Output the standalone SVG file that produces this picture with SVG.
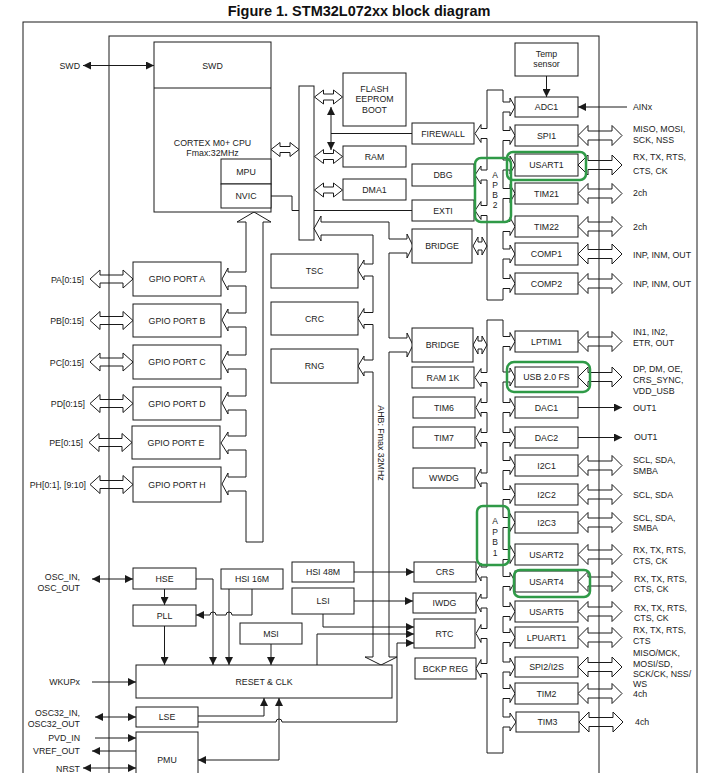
<svg xmlns="http://www.w3.org/2000/svg" width="719" height="773" viewBox="0 0 719 773">
<style>
.b{fill:#fff;stroke:#1a1a1a;stroke-width:1}
.l{fill:none;stroke:#1a1a1a;stroke-width:1}
.t{font-family:"Liberation Sans",Arial,sans-serif;font-size:8.8px;fill:#222;text-anchor:middle}
.s{font-family:"Liberation Sans",Arial,sans-serif;font-size:8.8px;fill:#222;text-anchor:start}
.e{font-family:"Liberation Sans",Arial,sans-serif;font-size:8.8px;fill:#222;text-anchor:end}
.g{fill:none;stroke:#2f9a47;stroke-width:2.5}
</style>
<defs>
<marker id="a" viewBox="0 0 10 10" refX="10" refY="5" markerWidth="8" markerHeight="8" markerUnits="userSpaceOnUse" orient="auto-start-reverse"><path d="M0,0 L10,5 L0,10 z" fill="#1a1a1a"/></marker>
<polygon id="dR" class="l" points="0,0 10,-10 10,-4.5 34,-4.5 34,-10 44,0 34,10 34,4.5 10,4.5 10,10"/>
<polygon id="dG" class="l" points="0,0 10,-9 10,-4 33,-4 33,-9 43,0 33,9 33,4 10,4 10,9"/>
<polygon id="dS" class="l" points="0,0 9,-7 9,-3 19,-3 19,-7 28,0 19,7 19,3 9,3 9,7"/>
<polygon id="dB" class="l" points="0,0 5,-9 5,-4 9,-4 9,-9 14,0 9,9 9,4 5,4 5,9"/>
</defs>
<rect width="719" height="773" fill="#fff"/>
<text x="359" y="16" font-family="Liberation Sans, Arial, sans-serif" font-size="14.5" font-weight="bold" text-anchor="middle" fill="#111">Figure 1. STM32L072xx block diagram</text>
<rect class="l" x="23" y="22" width="674" height="770"/>
<rect class="l" x="109" y="36" width="490" height="760"/>

<g id="buses">
<rect class="l" x="299" y="86" width="15" height="154"/>
<path class="l" d="M373,657 L373,372 L364,372 L364,376 L358,366 L364,356 L364,360 L373,360 L373,324.5 L364,324.5 L364,328.5 L358,318.5 L364,308.5 L364,312.5 L373,312.5 L373,276 L364,276 L364,280 L358,270 L364,260 L364,264 L373,264 L373,235 L321,235 L321,241 L314,228.5 L321,216 L321,222 L389,222 L389,239 L407,239 L407,234 L413,246 L407,258 L407,253 L389,253 L389,338 L407,338 L407,333 L413,345 L407,357 L407,352 L389,352 L389,657 L397,657 L381,665 L365,657 Z"/>
<text class="t" transform="translate(381,443) rotate(90)" dominant-baseline="central">AHB: Fmax 32MHz</text>
<path class="l" d="M246,542 L246,491 L228,491 L228,495 L222,484 L228,473 L228,477 L246,477 L246,450 L228,450 L228,454 L221,443 L228,432 L228,436 L246,436 L246,410 L228,410 L228,414 L222,403 L228,392 L228,396 L246,396 L246,369 L228,369 L228,373 L222,362 L228,351 L228,355 L246,355 L246,327 L228,327 L228,331 L222,320 L228,309 L228,313 L246,313 L246,286 L228,286 L228,290 L222,279 L228,268 L228,272 L246,272 L246,222 L237,222 L254,212 L271,222 L263,222 L263,542 Z"/>
<path class="l" d="M487,90 H503 V102 H510 V98 L515,107 L510,116 V112 H503 V130.5 H510 V126.5 L515,135.5 L510,144.5 V140.5 H503 V160 H510 V156 L515,165 L510,174 V170 H503 V188.5 H510 V184.5 L515,193.5 L510,202.5 V198.5 H503 V221.5 H510 V217.5 L515,226.5 L510,235.5 V231.5 H503 V249 H510 V245 L515,254 L510,263 V259 H503 V278.5 H510 V274.5 L515,283.5 L510,292.5 V288.5 H503 V300 H487 V215.5 H481 V219.5 L475,210.5 L481,201.5 V205.5 H487 V180 H481 V184 L475,175 L481,166 V170 H487 V138.5 H481 V142.5 L475,133.5 L481,124.5 V128.5 H487 Z"/>
<path class="l" d="M487,320 H503 V336.5 H510 V332.5 L515,341.5 L510,350.5 V346.5 H503 V372 H510 V368 L515,377 L510,386 V382 H503 V402.5 H510 V398.5 L515,407.5 L510,416.5 V412.5 H503 V432.5 H510 V428.5 L515,437.5 L510,446.5 V442.5 H503 V460.5 H510 V456.5 L515,465.5 L510,474.5 V470.5 H503 V489.5 H510 V485.5 L515,494.5 L510,503.5 V499.5 H503 V517.5 H510 V513.5 L515,522.5 L510,531.5 V527.5 H503 V549.5 H510 V545.5 L515,554.5 L510,563.5 V559.5 H503 V576.5 H510 V572.5 L515,581.5 L510,590.5 V586.5 H503 V606.5 H510 V602.5 L515,611.5 L510,620.5 V616.5 H503 V632.5 H510 V628.5 L515,637.5 L510,646.5 V642.5 H503 V662 H510 V658 L515,667 L510,676 V672 H503 V688.5 H510 V684.5 L515,693.5 L510,702.5 V698.5 H503 V717 H510 V713 L516,722 L510,731 V727 H503 V753 H487 V673.5 H481 V677.5 L476,668.5 L481,659.5 V663.5 H487 V638.5 H481 V642.5 L476,633.5 L481,624.5 V628.5 H487 V608 H481 V612 L476,603 L481,594 V598 H487 V577 H481 V581 L476,572 L481,563 V567 H487 V483 H481 V487 L476,478 L481,469 V473 H487 V442.5 H481 V446.5 L476,437.5 L481,428.5 V432.5 H487 V412.5 H481 V416.5 L476,407.5 L481,398.5 V402.5 H487 V382.5 H481 V386.5 L475,377.5 L481,368.5 V372.5 H487 Z"/>
<g font-family="Liberation Sans, Arial, sans-serif" font-size="8.5" fill="#222" text-anchor="middle">
<text x="495" y="177.5">A</text><text x="495" y="187.5">P</text><text x="495" y="198">B</text><text x="495" y="208">2</text>
<text x="495" y="524">A</text><text x="495" y="535">P</text><text x="495" y="545">B</text><text x="495" y="556">1</text>
</g>
</g>

<g id="fat-arrows">
<use href="#dS" x="271" y="149.5"/>
<use href="#dS" x="314.5" y="97"/>
<use href="#dS" x="314.5" y="156.5"/>
<use href="#dS" x="314.5" y="190"/>
<use href="#dB" x="473" y="246"/>
<use href="#dB" x="473" y="345"/>
<use href="#dG" x="90" y="279"/>
<use href="#dG" x="90" y="320.5"/>
<use href="#dG" x="90" y="362"/>
<use href="#dG" x="90" y="403.5"/>
<use href="#dG" x="89" y="442.5"/>
<use href="#dG" x="90" y="484.5"/>
<use href="#dR" x="578" y="135.5"/>
<use href="#dR" x="578" y="165"/>
<use href="#dR" x="578" y="193.5"/>
<use href="#dR" x="578" y="226.5"/>
<use href="#dR" x="578" y="254"/>
<use href="#dR" x="578" y="283.5"/>
<use href="#dR" x="578" y="341.5"/>
<use href="#dR" x="578" y="377"/>
<use href="#dR" x="578" y="465.5"/>
<use href="#dR" x="578" y="494.5"/>
<use href="#dR" x="578" y="522.5"/>
<use href="#dR" x="578" y="554.5"/>
<use href="#dR" x="578" y="581.5"/>
<use href="#dR" x="578" y="611.5"/>
<use href="#dR" x="578" y="637.5"/>
<use href="#dR" x="578" y="667"/>
<use href="#dR" x="578" y="693.5"/>
<use href="#dR" x="579" y="722"/>
</g>

<g id="connectors">
<path class="l" d="M83,65.5 H154" marker-start="url(#a)" marker-end="url(#a)"/>
<path class="l" d="M331,107 V150" marker-start="url(#a)" marker-end="url(#a)"/>
<path class="l" d="M331,133.5 H412"/>
<path class="l" d="M271,196 H292 V210.5 H299"/>
<path class="l" d="M314,210.5 H412"/>
<path class="l" d="M546.5,76 V97" marker-end="url(#a)"/>
<path class="l" d="M627,107 H578" marker-end="url(#a)"/>
<path class="l" d="M578,407.5 H622" marker-end="url(#a)"/>
<path class="l" d="M578,437.5 H622" marker-end="url(#a)"/>
<path class="l" d="M92,579 H133" marker-start="url(#a)" marker-end="url(#a)"/>
<path class="l" d="M164.5,589 V605" marker-end="url(#a)"/>
<path class="l" d="M164.5,626 V665" marker-end="url(#a)"/>
<path class="l" d="M196,579 H213 V665" marker-end="url(#a)"/>
<path class="l" d="M229,589 V665" marker-end="url(#a)"/>
<path class="l" d="M252,589 V615 H232 A3,3 0 0 0 226,615 H216 A3,3 0 0 0 210,615 H196" marker-end="url(#a)"/>
<path class="l" d="M271,644 V665" marker-end="url(#a)"/>
<path class="l" d="M92,682 H136" marker-end="url(#a)"/>
<path class="l" d="M95,717 H136" marker-start="url(#a)" marker-end="url(#a)"/>
<path class="l" d="M198,716 H264 V698" marker-end="url(#a)"/>
<path class="l" d="M198,722 H276 A3,3 0 0 1 282,722 H397 V643 H414" marker-end="url(#a)"/>
<path class="l" d="M198,760 H279 V698" marker-start="url(#a)" marker-end="url(#a)"/>
<path class="l" d="M95,738 H136" marker-end="url(#a)"/>
<path class="l" d="M136,751 H92" marker-end="url(#a)"/>
<path class="l" d="M83,768 H136" marker-start="url(#a)" marker-end="url(#a)"/>
<path class="l" d="M354,572 H414" marker-end="url(#a)"/>
<path class="l" d="M354,601 H413" marker-end="url(#a)"/>
<path class="l" d="M323,614 V627 H414" marker-end="url(#a)"/>
<path class="l" d="M317,665 V634 H414" marker-end="url(#a)"/>
</g>

<g id="cpu"><rect class="b" x="154" y="42" width="117" height="170"/><line class="l" x1="154" y1="88" x2="271" y2="88"/><text class="t" x="212.5" y="68.5">SWD</text><text class="t" x="212.5" y="146">CORTEX M0+ CPU</text><text class="t" x="212.5" y="156">Fmax:32MHz</text></g>
<g id="mpu"><rect class="b" x="221" y="159" width="50" height="25"/><text class="t" x="246" y="174.7">MPU</text></g>
<g id="nvic"><rect class="b" x="221" y="184" width="50" height="24"/><text class="t" x="246" y="199.2">NVIC</text></g>
<g id="flash"><rect class="b" x="343" y="73" width="63" height="53"/><text class="t" x="374.5" y="92.2">FLASH</text><text class="t" x="374.5" y="102.2">EEPROM</text><text class="t" x="374.5" y="112.5">BOOT</text></g>
<g id="ram"><rect class="b" x="343" y="146" width="63" height="21"/><text class="t" x="374.5" y="159.7">RAM</text></g>
<g id="dma1"><rect class="b" x="343" y="179" width="63" height="21"/><text class="t" x="374.5" y="192.7">DMA1</text></g>
<g id="firewall"><rect class="b" x="412" y="123" width="62" height="21"/><text class="t" x="443" y="136.7">FIREWALL</text></g>
<g id="dbg"><rect class="b" x="412" y="164" width="62" height="22"/><text class="t" x="443" y="178.2">DBG</text></g>
<g id="exti"><rect class="b" x="412" y="200" width="62" height="21"/><text class="t" x="443" y="213.7">EXTI</text></g>
<g id="bridge1"><rect class="b" x="412" y="229" width="60" height="34"/><text class="t" x="442" y="249.2">BRIDGE</text></g>
<g id="tsc"><rect class="b" x="271" y="254" width="87" height="34"/><text class="t" x="314.5" y="274.2">TSC</text></g>
<g id="crc"><rect class="b" x="271" y="302" width="87" height="33"/><text class="t" x="314.5" y="321.7">CRC</text></g>
<g id="rng"><rect class="b" x="271" y="349" width="87" height="34"/><text class="t" x="314.5" y="369.2">RNG</text></g>
<g id="bridge2"><rect class="b" x="412" y="328" width="61" height="34"/><text class="t" x="442.5" y="348.2">BRIDGE</text></g>
<g id="ram1k"><rect class="b" x="412" y="367" width="62" height="21"/><text class="t" x="443" y="380.7">RAM 1K</text></g>
<g id="tim6"><rect class="b" x="413" y="397" width="62" height="21"/><text class="t" x="444" y="410.7">TIM6</text></g>
<g id="tim7"><rect class="b" x="413" y="427" width="62" height="21"/><text class="t" x="444" y="440.7">TIM7</text></g>
<g id="wwdg"><rect class="b" x="413" y="468" width="62" height="20"/><text class="t" x="444" y="481.2">WWDG</text></g>
<g id="crs"><rect class="b" x="414" y="562" width="62" height="20"/><text class="t" x="445" y="575.2">CRS</text></g>
<g id="iwdg"><rect class="b" x="413" y="593" width="63" height="20"/><text class="t" x="444.5" y="606.2">IWDG</text></g>
<g id="rtc"><rect class="b" x="414" y="619" width="61" height="29"/><text class="t" x="444.5" y="636.7">RTC</text></g>
<g id="bckp"><rect class="b" x="415" y="658" width="61" height="21"/><text class="t" x="445.5" y="671.7">BCKP REG</text></g>

<g id="gpioa"><rect class="b" x="133" y="262" width="88" height="34"/><text class="t" x="177" y="282.2">GPIO PORT A</text></g>
<g id="gpiob"><rect class="b" x="133" y="304" width="88" height="33"/><text class="t" x="177" y="323.7">GPIO PORT B</text></g>
<g id="gpioc"><rect class="b" x="133" y="345" width="88" height="34"/><text class="t" x="177" y="365.2">GPIO PORT C</text></g>
<g id="gpiod"><rect class="b" x="133" y="387" width="88" height="33"/><text class="t" x="177" y="406.7">GPIO PORT D</text></g>
<g id="gpioe"><rect class="b" x="132" y="426" width="88" height="33"/><text class="t" x="176" y="445.7">GPIO PORT E</text></g>
<g id="gpioh"><rect class="b" x="133" y="467" width="88" height="35"/><text class="t" x="177" y="487.7">GPIO PORT H</text></g>

<g id="hse"><rect class="b" x="133" y="568" width="63" height="21"/><text class="t" x="164.5" y="581.7">HSE</text></g>
<g id="pll"><rect class="b" x="133" y="605" width="63" height="21"/><text class="t" x="164.5" y="618.7">PLL</text></g>
<g id="hsi16"><rect class="b" x="221" y="569" width="62" height="20"/><text class="t" x="252" y="582.2">HSI 16M</text></g>
<g id="hsi48"><rect class="b" x="292" y="562" width="62" height="20"/><text class="t" x="323" y="575.2">HSI 48M</text></g>
<g id="lsi"><rect class="b" x="292" y="588" width="62" height="26"/><text class="t" x="323" y="604.2">LSI</text></g>
<g id="msi"><rect class="b" x="240" y="623" width="62" height="21"/><text class="t" x="271" y="636.7">MSI</text></g>
<g id="resetclk"><rect class="b" x="136" y="665" width="256" height="33"/><text class="t" x="264" y="684.7">RESET &amp; CLK</text></g>
<g id="lse"><rect class="b" x="136" y="707" width="62" height="20"/><text class="t" x="167" y="720.2">LSE</text></g>
<g id="pmu"><rect class="b" x="136" y="732" width="62" height="60"/><text class="t" x="167" y="762.5">PMU</text></g>

<g id="temp"><rect class="b" x="515" y="43" width="63" height="33"/><text class="t" x="546.5" y="57">Temp</text><text class="t" x="546.5" y="67">sensor</text></g>
<g id="adc1"><rect class="b" x="515" y="97" width="63" height="20"/><text class="t" x="546.5" y="110.2">ADC1</text></g>
<g id="spi1"><rect class="b" x="515" y="125" width="63" height="21"/><text class="t" x="546.5" y="138.7">SPI1</text></g>
<g id="usart1"><rect class="b" x="515" y="154" width="63" height="22"/><text class="t" x="546.5" y="168.2">USART1</text></g>
<g id="tim21"><rect class="b" x="515" y="183" width="63" height="21"/><text class="t" x="546.5" y="196.7">TIM21</text></g>
<g id="tim22"><rect class="b" x="515" y="216" width="63" height="21"/><text class="t" x="546.5" y="229.7">TIM22</text></g>
<g id="comp1"><rect class="b" x="515" y="243" width="63" height="22"/><text class="t" x="546.5" y="257.2">COMP1</text></g>
<g id="comp2"><rect class="b" x="515" y="273" width="63" height="21"/><text class="t" x="546.5" y="286.7">COMP2</text></g>
<g id="lptim1"><rect class="b" x="515" y="331" width="63" height="21"/><text class="t" x="546.5" y="344.7">LPTIM1</text></g>
<g id="usb"><rect class="b" x="515" y="367" width="63" height="20"/><text class="t" x="546.5" y="380.2">USB 2.0 FS</text></g>
<g id="dac1"><rect class="b" x="515" y="397" width="63" height="21"/><text class="t" x="546.5" y="410.7">DAC1</text></g>
<g id="dac2"><rect class="b" x="515" y="427" width="63" height="21"/><text class="t" x="546.5" y="440.7">DAC2</text></g>
<g id="i2c1"><rect class="b" x="515" y="455" width="63" height="21"/><text class="t" x="546.5" y="468.7">I2C1</text></g>
<g id="i2c2"><rect class="b" x="515" y="484" width="63" height="21"/><text class="t" x="546.5" y="497.7">I2C2</text></g>
<g id="i2c3"><rect class="b" x="515" y="512" width="63" height="21"/><text class="t" x="546.5" y="525.7">I2C3</text></g>
<g id="usart2"><rect class="b" x="515" y="544" width="63" height="21"/><text class="t" x="546.5" y="557.7">USART2</text></g>
<g id="usart4"><rect class="b" x="515" y="571" width="63" height="21"/><text class="t" x="546.5" y="584.7">USART4</text></g>
<g id="usart5"><rect class="b" x="515" y="601" width="63" height="21"/><text class="t" x="546.5" y="614.7">USART5</text></g>
<g id="lpuart1"><rect class="b" x="515" y="627" width="63" height="21"/><text class="t" x="546.5" y="640.7">LPUART1</text></g>
<g id="spi2"><rect class="b" x="515" y="657" width="63" height="20"/><text class="t" x="546.5" y="670.2">SPI2/I2S</text></g>
<g id="tim2"><rect class="b" x="515" y="683" width="63" height="21"/><text class="t" x="546.5" y="696.7">TIM2</text></g>
<g id="tim3"><rect class="b" x="516" y="712" width="63" height="20"/><text class="t" x="547.5" y="725.2">TIM3</text></g>

<g id="labels-left">
<text class="e" x="80" y="68.7">SWD</text>
<text class="e" x="84" y="282.5">PA[0:15]</text>
<text class="e" x="84" y="324">PB[0:15]</text>
<text class="e" x="84" y="365.5">PC[0:15]</text>
<text class="e" x="85" y="406.5">PD[0:15]</text>
<text class="e" x="83" y="446">PE[0:15]</text>
<text class="e" x="86" y="487.5">PH[0:1], [9:10]</text>
<text class="e" x="80" y="580">OSC_IN,</text>
<text class="e" x="80" y="590.5">OSC_OUT</text>
<text class="e" x="80" y="685">WKUPx</text>
<text class="e" x="80" y="716">OSC32_IN,</text>
<text class="e" x="80" y="726.5">OSC32_OUT</text>
<text class="e" x="80" y="741">PVD_IN</text>
<text class="e" x="80" y="754">VREF_OUT</text>
<text class="e" x="80" y="771.5">NRST</text>
</g>
<g id="labels-right">
<text class="s" x="633" y="110">AINx</text>
<text class="s" x="633" y="131.5">MISO, MOSI,</text>
<text class="s" x="633" y="143.3">SCK, NSS</text>
<text class="s" x="633" y="160">RX, TX, RTS,</text>
<text class="s" x="633" y="174">CTS, CK</text>
<text class="s" x="633" y="196">2ch</text>
<text class="s" x="633" y="230">2ch</text>
<text class="s" x="633" y="258">INP, INM, OUT</text>
<text class="s" x="633" y="286.5">INP, INM, OUT</text>
<text class="s" x="633" y="334.5">IN1, IN2,</text>
<text class="s" x="633" y="345.5">ETR, OUT</text>
<text class="s" x="633" y="371.5">DP, DM, OE,</text>
<text class="s" x="633" y="382.5">CRS_SYNC,</text>
<text class="s" x="633" y="393.5">VDD_USB</text>
<text class="s" x="633" y="411">OUT1</text>
<text class="s" x="634" y="439.5">OUT1</text>
<text class="s" x="633" y="462.5">SCL, SDA,</text>
<text class="s" x="633" y="474">SMBA</text>
<text class="s" x="633" y="497.5">SCL, SDA</text>
<text class="s" x="633" y="520.5">SCL, SDA,</text>
<text class="s" x="633" y="531">SMBA</text>
<text class="s" x="633" y="553.2">RX, TX, RTS,</text>
<text class="s" x="633" y="564">CTS, CK</text>
<text class="s" x="634" y="581.5">RX, TX, RTS,</text>
<text class="s" x="634" y="591.5">CTS, CK</text>
<text class="s" x="634" y="610.5">RX, TX, RTS,</text>
<text class="s" x="634" y="620.5">CTS, CK</text>
<text class="s" x="633" y="632.5">RX, TX, RTS,</text>
<text class="s" x="633" y="644">CTS</text>
<text class="s" x="633" y="656">MISO/MCK,</text>
<text class="s" x="633" y="666.5">MOSI/SD,</text>
<text class="s" x="633" y="677.2">SCK/CK, NSS/</text>
<text class="s" x="633" y="687.2">WS</text>
<text class="s" x="633" y="696.5">4ch</text>
<text class="s" x="635" y="725.2">4ch</text>
</g>

<g id="highlights">
<rect class="g" x="475" y="158" width="36" height="64" rx="6"/>
<rect class="g" x="507" y="152" width="79" height="28" rx="6"/>
<rect class="g" x="507" y="362" width="83" height="30" rx="7"/>
<rect class="g" x="477" y="506" width="32" height="59" rx="6"/>
<rect class="g" x="514" y="570" width="76" height="27" rx="6"/>
</g>
</svg>
